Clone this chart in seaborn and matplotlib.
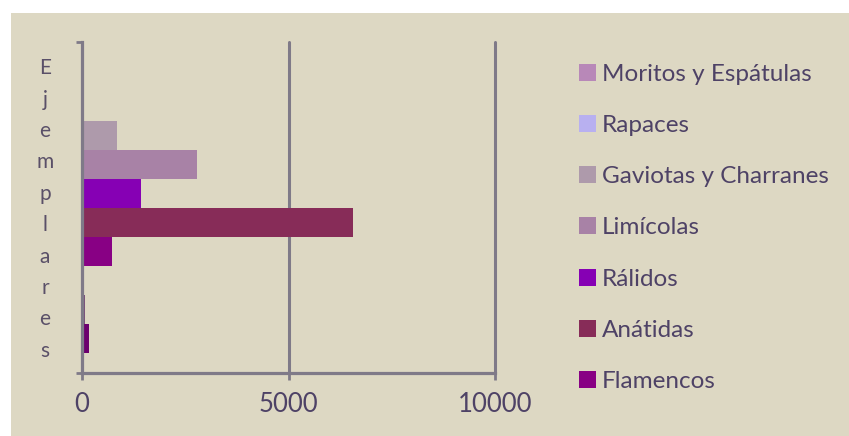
import matplotlib
matplotlib.use("Agg")
import matplotlib.pyplot as plt
import seaborn as sns
import pandas as pd
from matplotlib.patches import Rectangle

# ---- data ----
category = ["Ejemplares"]
series = ["Moritos y Espátulas", "Rapaces", "Gaviotas y Charranes", "Limícolas",
          "Rálidos", "Anátidas", "Flamencos", "Serie 8", "Serie 9", "Serie 10"]
values = [30, 10, 840, 2780, 1420, 6550, 720, 10, 80, 160]
colors = ["#b888b8", "#b8b0f0", "#ae9aab", "#a882a6", "#8600b4",
          "#872c58", "#880084", "#b8b0f0", "#7a507a", "#6c006e"]
legend_count = 7
x_ticks = [0, 5000, 10000]
y_title = "Ejemplares"

df = pd.DataFrame({"cat": category * len(series), "serie": series, "value": values})

sns.set_theme(style="white")
plt.rcParams["font.family"] = ["Lato", "DejaVu Sans"]

W, H = 849, 436
fig = plt.figure(figsize=(W / 100, H / 100), dpi=100, facecolor="white")
fig.patches.append(Rectangle((11 / W, 0), 1 - 11 / W, (H - 13) / H,
                             transform=fig.transFigure, facecolor="#ddd8c3",
                             edgecolor="none", zorder=-10))

left, right, top, bottom = 82, 495, 42, 373
ax = fig.add_axes([left / W, (H - bottom) / H, (right - left) / W, (bottom - top) / H])
ax.set_facecolor("none")

sns.barplot(data=df, x="value", y="cat", hue="serie", hue_order=series,
            palette=colors, orient="h", width=290 / 331, saturation=1,
            dodge=True, ax=ax, linewidth=0, legend=True)

grey = "#7f7a88"
text_c = "#4e4266"
ax.set_xlim(0, 10000)
ax.set_ylim(0.5, -0.5)
ax.set_xticks(x_ticks)
ax.set_xticklabels([str(t) for t in x_ticks])
ax.set_yticks([-0.5, 0.5])
ax.set_yticklabels(["", ""])
ax.set_xlabel("")
ax.set_ylabel("")
for t in x_ticks[1:]:
    ax.axvline(t, color=grey, lw=2.2, zorder=0.5, clip_on=False)
for s in ["top", "right"]:
    ax.spines[s].set_visible(False)
for s in ["left", "bottom"]:
    ax.spines[s].set_color(grey)
    ax.spines[s].set_linewidth(2.3)
    ax.spines[s].set_zorder(5)
ax.tick_params(axis="x", direction="out", length=5, width=2, color=grey,
               labelsize=18.5, labelcolor=text_c, pad=9, bottom=True)
ax.tick_params(axis="y", direction="out", length=4.5, width=2, color=grey, left=True)

handles, labels = ax.get_legend_handles_labels()
ax.legend(handles[:legend_count], labels[:legend_count], loc="upper left",
          bbox_to_anchor=(579 / W, (H - 64) / H), bbox_transform=fig.transFigure,
          frameon=False, fontsize=17.5, labelcolor=text_c, handlelength=0.7,
          handleheight=0.7, handletextpad=0.25, labelspacing=1.24,
          borderpad=0, borderaxespad=0)

fig.text(45 / W, (H - 209.5) / H, "\n".join(y_title), ha="center", va="center",
         fontsize=15, color="#5a5068", linespacing=1.71)

fig.savefig("out.png", dpi=100, facecolor=fig.get_facecolor())
